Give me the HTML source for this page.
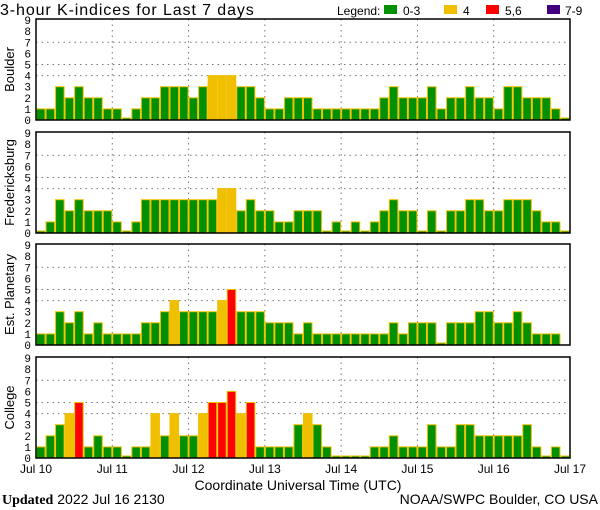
<!DOCTYPE html>
<html><head><meta charset="utf-8"><style>
html,body{margin:0;padding:0;background:#fff;}
svg{display:block;font-family:"Liberation Mono","DejaVu Sans Mono",monospace;}
</style></head><body>
<svg id="c" width="600" height="510" viewBox="0 0 600 510">
<text x="0" y="15" font-size="16" letter-spacing="0.9" fill="#000" font-family="Liberation Sans, sans-serif">3-hour K-indices for Last 7 days</text>
<g font-size="12" font-family="Liberation Sans, sans-serif">
<text x="337" y="15">Legend:</text>
<rect x="384" y="5" width="13" height="9" fill="#009000"/>
<text x="403" y="15">0-3</text>
<rect x="444" y="5" width="13" height="9" fill="#f0c000"/>
<text x="463" y="15">4</text>
<rect x="486" y="5" width="13" height="9" fill="#ff0000"/>
<text x="505" y="15">5,6</text>
<rect x="547" y="5" width="13" height="9" fill="#400080"/>
<text x="565" y="15">7-9</text>
</g>
<text x="298" y="490" text-anchor="middle" font-size="14" font-family="Liberation Sans, sans-serif">Coordinate Universal Time (UTC)</text>
<text x="2" y="504" font-size="14" font-family="Liberation Sans, sans-serif"><tspan font-weight="bold" font-family="Liberation Serif, serif">Updated</tspan> 2022 Jul 16 2130</text>
<text x="598" y="504" text-anchor="end" font-size="14" font-family="Liberation Sans, sans-serif">NOAA/SWPC Boulder, CO USA</text>
</svg>
<script>
const stations = ["Boulder","Fredericksburg","Est. Planetary","College"];
const boulder = [1,1,3,2,3,2,2,1,1,0,1,2,2,3,3,3,2,3,4,4,4,3,3,2,1,1,2,2,2,1,1,1,1,1,1,1,2,3,2,2,2,3,1,2,2,3,2,2,1,3,3,2,2,2,1,0];
const fredericksburg = [0,1,3,2,3,2,2,2,1,0,1,3,3,3,3,3,3,3,3,4,4,2,3,2,2,1,1,2,2,2,0,1,0,1,0,1,2,3,2,2,0,2,0,2,2,3,3,2,2,3,3,3,2,1,1,0];
const planetary = [1,1,3,2,3,1,2,1,1,1,1,2,2,3,4,3,3,3,3,4,5,3,3,3,2,2,2,1,2,1,1,1,1,1,1,1,1,2,1,2,2,2,0,2,2,2,3,3,2,2,3,2,1,1,1,null];
const college = [1,2,3,4,5,1,2,1,1,0,1,1,4,2,4,2,2,4,5,5,6,4,5,1,1,1,1,3,4,3,1,0,0,0,0,1,1,2,1,1,1,3,1,1,3,3,2,2,2,2,2,3,1,0,1,0];
const dayLabels = ["Jul 10","Jul 11","Jul 12","Jul 13","Jul 14","Jul 15","Jul 16","Jul 17"];
const yTicks = [0,1,2,3,4,5,6,7,8,9];
const series = [boulder,fredericksburg,planetary,college];

const svg = document.getElementById('c');
const NS = "http://www.w3.org/2000/svg";
const X0 = 36, X1 = 570, N = 56;
const panelTops = [19,132,244,357], PH = 101, UNIT = 11.1;
const bw = (X1-X0)/N;
function xs(i){return X0 + i*bw;}
function mk(tag, attrs){const e=document.createElementNS(NS,tag);for(const k in attrs)e.setAttribute(k,attrs[k]);svg.appendChild(e);return e;}
function color(v){return v>=7?"#400080":v>=5?"#ff0000":v>=4?"#f0c000":"#009000";}

series.forEach((data,p)=>{
  const top = panelTops[p], bot = top+PH;
  const ys = v => bot - v*UNIT;
  [4,5,7].forEach(g=>{
    const l = mk('line',{x1:X0,x2:X1,y1:ys(g),y2:ys(g),stroke:"#777","stroke-dasharray":"1.5,4"});
    
    
  });
  for(let d=1; d<7; d++){
    const l = mk('line',{x1:xs(d*8),x2:xs(d*8),y1:top,y2:bot,stroke:"#777","stroke-dasharray":"1.5,4"});
    
    
  }
  data.forEach((v,i)=>{
    if(v===null) return;
    const h = v===0 ? 2 : v*UNIT;
    const r = mk('rect',{x:xs(i)+0.5,y:bot-h,width:bw-1,height:h,fill:color(v),stroke:"#f0c000","stroke-width":1});
    
    
  });
  const f = mk('rect',{x:X0,y:top,width:X1-X0,height:PH,fill:"none",stroke:"#000","stroke-width":1.5});
  
  
  yTicks.forEach(t=>{
    const tx = mk('text',{x:31,y:ys(t)+4,"text-anchor":"end","font-size":11});
    tx.textContent = t;
    
    
  });
  const cy = top+PH/2;
  const tt = mk('text',{x:0,y:0,"text-anchor":"middle","font-size":13,"font-family":"Liberation Sans, sans-serif",transform:`translate(14,${cy}) rotate(-90)`});
  tt.textContent = stations[p];
  
  
});

dayLabels.forEach((d,k)=>{
  const t = mk('text',{x:xs(k*8),y:473,"text-anchor":"middle","font-size":12,"font-family":"Liberation Sans, sans-serif"});
  t.textContent = d;
  
  
});
</script>
</body></html>
